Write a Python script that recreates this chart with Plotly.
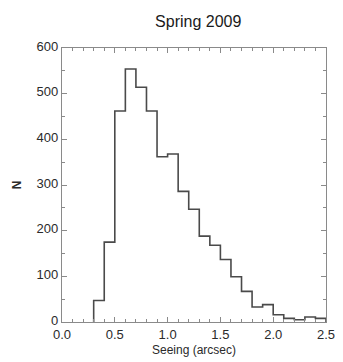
import plotly.graph_objects as go

bin_lefts = [0.3, 0.4, 0.5, 0.6, 0.7, 0.8, 0.9, 1.0, 1.1, 1.2, 1.3, 1.4,
             1.5, 1.6, 1.7, 1.8, 1.9, 2.0, 2.1, 2.2, 2.3, 2.4]
counts = [47, 175, 462, 554, 514, 462, 362, 368, 286, 247, 188, 168,
          137, 99, 67, 33, 38, 16, 8, 5, 11, 8]
bin_width = 0.1

x_tickvals = [0.0, 0.5, 1.0, 1.5, 2.0, 2.5]
x_ticktext = ["0.0", "0.5", "1.0", "1.5", "2.0", "2.5"]
y_tickvals = [0, 100, 200, 300, 400, 500, 600]

title_text = "Spring 2009"
x_title = "Seeing (arcsec)"
y_title = "<b>N</b>"

# step outline from bin edges
xs = [bin_lefts[0]] + bin_lefts + [bin_lefts[-1] + bin_width, bin_lefts[-1] + bin_width]
ys = [0] + counts + [counts[-1], 0]

fig = go.Figure()
fig.add_trace(go.Scatter(x=xs, y=ys, mode="lines", line_shape="hv",
                         line=dict(color="#4a4a4a", width=1.6),
                         showlegend=False, hoverinfo="skip", cliponaxis=False))

font_family = "Liberation Sans, Arial, sans-serif"
axis_common = dict(showline=True, linecolor="#8a8a8a", linewidth=1.2, mirror="allticks",
                   ticks="inside", ticklen=5, tickcolor="#8a8a8a", tickwidth=1,
                   showgrid=False, zeroline=False, ticklabeloverflow="allow",
                   tickfont=dict(family=font_family, size=13, color="#2a2a2a"))

fig.update_xaxes(range=[0, 2.5], tickmode="array", tickvals=x_tickvals, ticktext=x_ticktext,
                 minor=dict(dtick=0.1, tick0=0, ticks="inside", ticklen=3, tickcolor="#8a8a8a", showgrid=False),
                 title=dict(text=x_title, font=dict(family=font_family, size=12, color="#2a2a2a"), standoff=4),
                 ticklabelstandoff=0,
                 **axis_common)
fig.update_yaxes(range=[0, 600], tickmode="array", tickvals=y_tickvals,
                 minor=dict(dtick=50, tick0=0, ticks="inside", ticklen=3, tickcolor="#8a8a8a", showgrid=False),
                 title=dict(text=y_title, font=dict(family=font_family, size=12, color="#2a2a2a"), standoff=12),
                 ticklabelshift=-2,
                 **axis_common)

fig.update_layout(
    width=343, height=362,
    margin=dict(l=62, r=8, t=48, b=39),
    paper_bgcolor="white", plot_bgcolor="white",
    title=dict(text=title_text, x=0.578, xanchor="center", y=0.94, yanchor="middle",
               font=dict(family=font_family, size=16, color="#1a1a1a")),
)

fig.write_html("out.html")
